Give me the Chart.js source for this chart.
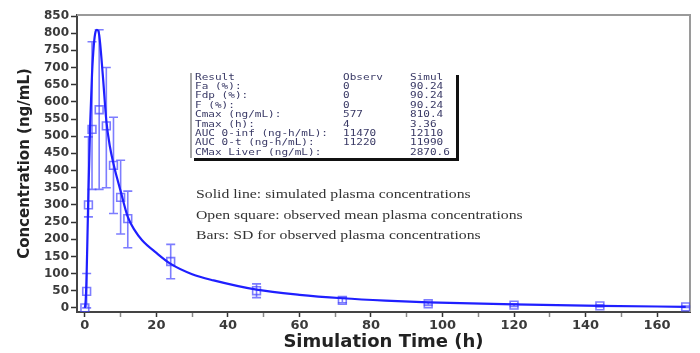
<!DOCTYPE html>
<html>
<head>
<meta charset="utf-8">
<script src="https://cdn.jsdelivr.net/npm/chart.js@4/dist/chart.umd.min.js"></script>
<style>
html,body{margin:0;padding:0;background:#fff;}
#wrap{width:700px;height:353px;position:relative;}
</style>
</head>
<body>
<div id="wrap"><canvas id="c" width="700" height="353"></canvas></div>
<script>
// Simulated plasma concentration (solid line)
const simTime = [0,0.25,0.5,0.75,1,1.5,2,2.5,3,3.36,4,5,6,7,8,9,10,12,14,16,20,24,30,36,48,60,72,84,96,120,144,168];
const simConc = [0,25,100,220,340,540,680,765,805,810,795,680,545,470,420,378,340,265,225,197,160,128,98,80,53,38,28,21,16,10,6,3];
// Observed mean plasma concentration (open squares) and SD bars
const obsTime = [0,0.5,1,2,4,6,8,10,12,24,48,72,96,120,144,168];
const obsMean = [0,48,300,520,577,530,415,322,260,135,50,22,12,8,6,3];
const obsLow  = [0,0,265,345,345,350,275,215,175,85,30,15,8,4,3,1];
const obsHigh = [0,100,498,775,810,700,555,430,340,185,70,30,16,12,9,5];
// Axis ticks
const xTicks = [0,10,20,30,40,50,60,70,80,90,100,110,120,130,140,150,160];
const yTicks = [0,50,100,150,200,250,300,350,400,450,500,550,600,650,700,750,800,850];
// Summary table
const tableRows = [
  ["Result","Observ","Simul"],
  ["Fa (%):","0","90.24"],
  ["Fdp (%):","0","90.24"],
  ["F (%):","0","90.24"],
  ["Cmax (ng/mL):","577","810.4"],
  ["Tmax (h):","4","3.36"],
  ["AUC 0-inf (ng-h/mL):","11470","12110"],
  ["AUC 0-t (ng-h/mL):","11220","11990"],
  ["CMax Liver (ng/mL):","","2870.6"]
];
const notes = [
  "Solid line: simulated plasma concentrations",
  "Open square: observed mean plasma concentrations",
  "Bars: SD for observed plasma concentrations"
];

const BLUE = '#1f1fff';
const BAR = 'rgba(70,70,255,0.7)';
const FONT = '"DejaVu Sans", Arial, sans-serif';

const extras = {
  id: 'extras',
  beforeDatasetsDraw(chart) {
    const {ctx, chartArea: a, scales: {x, y}} = chart;
    ctx.save();
    // frame top & right
    ctx.strokeStyle = '#9a9a9a';
    ctx.lineWidth = 2;
    ctx.beginPath();
    ctx.moveTo(a.left, a.top); ctx.lineTo(a.right, a.top); ctx.lineTo(a.right, a.bottom);
    ctx.stroke();
    // SD error bars
    ctx.strokeStyle = BAR;
    ctx.lineWidth = 1.6;
    obsTime.forEach((t, i) => {
      if (obsHigh[i] - obsLow[i] < 1) return;
      const px = x.getPixelForValue(t);
      const yl = y.getPixelForValue(obsLow[i]);
      const yh = y.getPixelForValue(obsHigh[i]);
      ctx.beginPath();
      ctx.moveTo(px, yl); ctx.lineTo(px, yh);
      ctx.moveTo(px - 4.5, yl); ctx.lineTo(px + 4.5, yl);
      ctx.moveTo(px - 4.5, yh); ctx.lineTo(px + 4.5, yh);
      ctx.stroke();
    });
    ctx.restore();
  },
  afterDatasetsDraw(chart) {
    const {ctx} = chart;
    ctx.save();
    // table box
    const bx = 191, by = 73, bw = 265, bh = 85;
    ctx.fillStyle = '#fff';
    ctx.fillRect(bx, by, bw, bh);
    ctx.fillStyle = '#111';
    ctx.fillRect(bx + 3, by + bh, bw, 3);
    ctx.fillRect(bx + bw, by + 2, 3, bh + 1);
    ctx.strokeStyle = '#888';
    ctx.lineWidth = 1.5;
    ctx.beginPath();
    ctx.moveTo(bx, by); ctx.lineTo(bx, by + bh);
    ctx.stroke();
    ctx.font = '8px "DejaVu Sans Mono", "Liberation Mono", monospace';
    ctx.fillStyle = '#3a3a66';
    ctx.textBaseline = 'middle';
    ctx.textAlign = 'left';
    const sx = 1.38;
    tableRows.forEach((r, i) => {
      const ty = by + 4.5 + i * 9.4;
      [[r[0], bx + 4], [r[1], 343], [r[2], 410]].forEach(([s, px]) => {
        ctx.save();
        ctx.translate(px, ty);
        ctx.scale(sx, 1);
        ctx.fillText(s, 0, 0);
        ctx.restore();
      });
    });
    // notes
    ctx.font = '12.5px "Liberation Serif", "Times New Roman", serif';
    ctx.fillStyle = '#333';
    notes.forEach((s, i) => {
      ctx.save();
      ctx.translate(196, 195 + i * 20.5);
      ctx.scale(1.26, 1);
      ctx.fillText(s, 0, 0);
      ctx.restore();
    });
    ctx.restore();
  }
};

new Chart(document.getElementById('c'), {
  type: 'scatter',
  data: {
    datasets: [
      {
        label: 'Simulated',
        data: simTime.map((t, i) => ({x: t, y: simConc[i]})),
        showLine: true,
        borderColor: BLUE,
        borderWidth: 2.2,
        pointRadius: 0,
        cubicInterpolationMode: 'monotone'
      },
      {
        label: 'Observed',
        data: obsTime.map((t, i) => ({x: t, y: obsMean[i]})),
        showLine: false,
        pointStyle: 'rect',
        pointRadius: 5.5,
        borderColor: BAR,
        borderWidth: 1.6,
        backgroundColor: 'rgba(0,0,0,0)'
      }
    ]
  },
  options: {
    responsive: false,
    animation: false,
    layout: {padding: {top: 15, right: 10, left: 0, bottom: 0}},
    plugins: {legend: {display: false}, tooltip: {enabled: false}},
    scales: {
      x: {
        type: 'linear',
        min: -2.2, max: 169.2,
        afterBuildTicks: s => { s.ticks = xTicks.map(v => ({value: v})); },
        afterFit: s => { s.height = 41; },
        grid: {
          display: true, drawOnChartArea: false, drawTicks: true, tickLength: 5,
          tickColor: c => (c.tick && c.tick.value % 20 === 0 ? '#333' : '#888'),
          tickWidth: 1.5
        },
        border: {display: true, color: '#444', width: 2},
        ticks: {
          autoSkip: false, maxRotation: 0, padding: 1,
          color: '#3a3a3a',
          font: {family: FONT, size: 13, weight: 'bold'},
          callback: v => (v % 20 === 0 ? String(v) : '')
        },
        title: {
          display: true, text: 'Simulation Time (h)', color: '#222', padding: {top: 0, bottom: 0},
          font: {family: FONT, size: 18, weight: 'bold'}
        }
      },
      y: {
        type: 'linear',
        min: -12, max: 853,
        afterBuildTicks: s => { s.ticks = yTicks.map(v => ({value: v})); },
        afterFit: s => { s.width = 77; },
        grid: {display: true, drawOnChartArea: false, drawTicks: true, tickLength: 6, tickColor: '#333', tickWidth: 1.5},
        border: {display: true, color: '#444', width: 2},
        ticks: {
          autoSkip: false, padding: 2,
          color: '#3a3a3a',
          font: {family: FONT, size: 12, weight: 'bold'}
        },
        title: {
          display: true, text: 'Concentration (ng/mL)', color: '#222', padding: {top: 16, bottom: 0},
          font: {family: FONT, size: 15, weight: 'bold'}
        }
      }
    }
  },
  plugins: [extras]
});
</script>
</body>
</html>
